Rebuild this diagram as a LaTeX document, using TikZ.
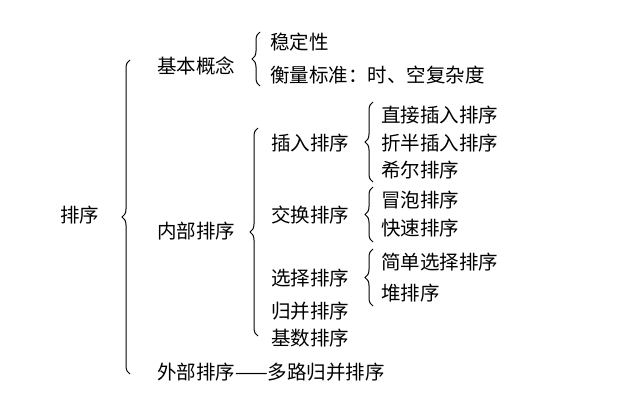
\documentclass[tikz,border=0pt]{standalone}
\usepackage{fontspec}
\newfontfamily\cjk{Noto Sans CJK SC}
\usetikzlibrary{decorations.pathreplacing}
\tikzset{
  item/.style={anchor=west,inner sep=0pt,font=\cjk\fontsize{19.5}{20}\selectfont},
  bracebar/.style={decorate,decoration={brace,amplitude=8pt},line width=1pt}
}
\begin{document}
\begin{tikzpicture}[x=1pt,y=-1pt]
  \useasboundingbox (0,0) rectangle (641,402);
  \node[item] (sort) at (60,215) {排序};
  \node[item] (basic) at (157,66) {基本概念};
  \node[item] (stable) at (270,42) {稳定性};
  \node[item] (measure) at (270,75) {衡量标准：时、空复杂度};
  \node[item] (inner) at (157,231) {内部排序};
  \node[item] (ins) at (271,143) {插入排序};
  \node[item] (ins1) at (381,115) {直接插入排序};
  \node[item] (ins2) at (381,143) {折半插入排序};
  \node[item] (ins3) at (381,170) {希尔排序};
  \node[item] (swap) at (271,215) {交换排序};
  \node[item] (swap1) at (381,200) {冒泡排序};
  \node[item] (swap2) at (381,228) {快速排序};
  \node[item] (sel) at (271,278) {选择排序};
  \node[item] (sel1) at (381,262) {简单选择排序};
  \node[item] (sel2) at (381,293) {堆排序};
  \node[item] (merge) at (271,311) {归并排序};
  \node[item] (radix) at (271,338) {基数排序};
  \node[item] (outer) at (157,372) {外部排序——多路归并排序};
  % braces
  \draw[bracebar] (130,374) -- (130,60);
  \draw[bracebar] (260,86) -- (260,32);
  \draw[bracebar] (258,336) -- (258,128);
  \draw[bracebar] (373,182) -- (373,102);
  \draw[bracebar] (373,242) -- (373,187);
  \draw[bracebar] (373,306) -- (373,249);
\end{tikzpicture}
\end{document}
